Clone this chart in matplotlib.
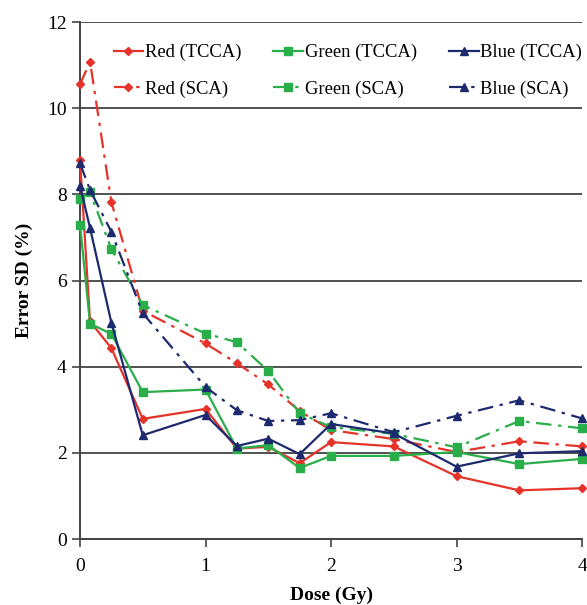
import matplotlib
matplotlib.use("Agg")
import matplotlib.pyplot as plt

dose = [0, 0.08, 0.25, 0.5, 1, 1.25, 1.5, 1.75, 2, 2.5, 3, 3.5, 4]

red_tcca = [8.8, 5.05, 4.43, 2.79, 3.02, 2.1, 2.14, 1.76, 2.25, 2.15, 1.46, 1.13, 1.18]
green_tcca = [7.3, 5.0, 4.76, 3.41, 3.47, 2.1, 2.18, 1.65, 1.93, 1.93, 2.02, 1.74, 1.86]
blue_tcca = [8.2, 7.22, 5.02, 2.41, 2.88, 2.16, 2.33, 1.97, 2.67, 2.45, 1.68, 1.99, 2.04]

red_sca = [10.55, 11.08, 7.82, 5.3, 4.54, 4.08, 3.59, 2.97, 2.53, 2.32, 2.02, 2.27, 2.15]
green_sca = [7.9, 8.05, 6.73, 5.43, 4.77, 4.57, 3.9, 2.92, 2.6, 2.44, 2.13, 2.74, 2.57]
blue_sca = [8.72, 8.1, 7.13, 5.24, 3.53, 2.99, 2.74, 2.76, 2.92, 2.48, 2.86, 3.22, 2.8]

labels = ["Red (TCCA)", "Red (SCA)", "Green (TCCA)", "Green (SCA)", "Blue (TCCA)", "Blue (SCA)"]
xticks = [0, 1, 2, 3, 4]
yticks = [0, 2, 4, 6, 8, 10, 12]

RED = "#e5332a"
GREEN = "#2aae4a"
BLUE = "#1d2a6e"
DASHDOT = (0, (7, 3, 1.5, 3))

plt.rcParams["font.family"] = ["Liberation Serif", "DejaVu Serif"]

fig = plt.figure(figsize=(5.87, 6.05), dpi=100)
ax = fig.add_axes([0.1363, 0.109, 0.8552, 0.8546])

series = [
    (red_tcca, RED, "D", 4.5, "-"),
    (red_sca, RED, "D", 4.5, DASHDOT),
    (green_tcca, GREEN, "s", 5.5, "-"),
    (green_sca, GREEN, "s", 5.5, DASHDOT),
    (blue_tcca, BLUE, "^", 6, "-"),
    (blue_sca, BLUE, "^", 6, DASHDOT),
]
handles = []
for (vals, c, m, ms, ls), lab in zip(series, labels):
    h, = ax.plot(dose, vals, color=c, marker=m, markersize=ms, linestyle=ls,
                 linewidth=1.6, label=lab, clip_on=False, zorder=3)
    handles.append(h)

ax.set_xlim(0, 4)
ax.set_ylim(0, 12)
ax.set_xticks(xticks)
ax.set_yticks(yticks)
ax.yaxis.grid(True, color="#333333", linewidth=1.2)
ax.set_axisbelow(True)
for s in ["top", "right"]:
    ax.spines[s].set_visible(False)
for s in ["left", "bottom"]:
    ax.spines[s].set_color("#444444")
    ax.spines[s].set_linewidth(1.4)
ax.tick_params(axis="both", labelsize=14, length=6, width=1.2, color="#444444")
ax.tick_params(axis="x", pad=8)

ax.set_xlabel("Dose (Gy)", fontsize=14, fontweight="bold", labelpad=8)
ax.set_ylabel("Error SD (%)", fontsize=14, fontweight="bold", labelpad=10)

leg = ax.legend(handles=handles, ncol=3, loc="upper right", bbox_to_anchor=(1.008, 0.965),
                fontsize=13.4, frameon=True, handlelength=1.6, handletextpad=0.1,
                columnspacing=1.7, labelspacing=1.05, borderaxespad=0.0, borderpad=0.2)
leg.get_frame().set_edgecolor("none")
leg.get_frame().set_facecolor("white")
leg.get_frame().set_alpha(1)

fig.savefig("out.png", dpi=100)
